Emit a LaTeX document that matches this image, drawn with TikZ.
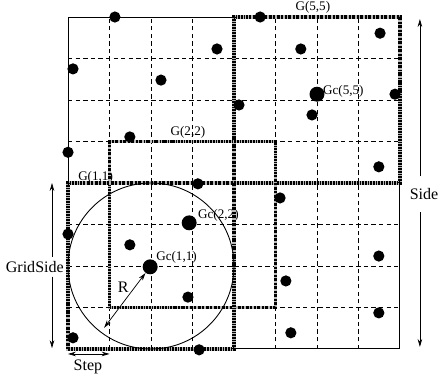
\documentclass[tikz,border=0pt]{standalone}
\usepackage{fontspec}
\setmainfont{Liberation Serif}
\usetikzlibrary{arrows.meta, calc}

\begin{document}
\begin{tikzpicture}[
  >={Stealth[length=1.9mm, width=1.1mm]},
  gridline/.style={dashed, dash pattern=on 3pt off 2.2pt, line width=0.5pt, black},
  gborder/.style={
    draw=gray!55, line width=2.4pt,
    postaction={draw=black, line width=2.2pt,
      dash pattern=on 0.45pt off 0.55pt on 0.45pt off 0.55pt on 0.45pt off 0.55pt on 1.4pt off 1.1pt}
  },
  sensor/.style={circle, fill=black, inner sep=0pt, minimum size=2.7mm},
  center/.style={circle, fill=black, inner sep=0pt, minimum size=3.6mm},
  glabel/.style={font=\fontsize{9}{10}\selectfont, inner sep=0pt},
  dimlabel/.style={font=\fontsize{11}{12}\selectfont, inner sep=0pt},
  dimarr/.style={<->, line width=0.5pt},
]

\useasboundingbox (-1.639,-0.771) rectangle (8.916,8.41);

% Dashed grid
\foreach \k in {1,...,7} {
  \draw[gridline] (\k,0) -- (\k,8);
  \draw[gridline] (0,\k) -- (8,\k);
}

% Field
\draw[line width=0.7pt] (0,0) rectangle (8,8);

% Sub-grid labels (under the borders)
\node[glabel] (g55lbl) at (5.9,8.24) {G(5,5)};
\node[glabel] (g22lbl) at (2.89,5.23) {G(2,2)};
\node[glabel, anchor=west] (g11lbl) at (0.24,4.14) {G(1,1)};
\node[glabel, anchor=west] (gc11lbl) at (2.12,2.22) {Gc(1,1)};
\node[glabel, anchor=west] (gc22lbl) at (3.13,3.23) {Gc(2,2)};
\node[glabel, anchor=west] (gc55lbl) at (6.14,6.22) {Gc(5,5)};

% Sub-grid borders
\draw[gborder] (4,4) rectangle (8,8);
\draw[gborder] (1,1) rectangle (5,5);
\draw[gborder] (0,0) rectangle (4,4);

% Sensing range
\draw[line width=0.6pt] (2,2) circle (2);

% Sensors
\node[sensor] (s1) at (1.13,8.0) {};
\node[sensor] (s2) at (3.59,7.23) {};
\node[sensor] (s3) at (0.12,6.75) {};
\node[sensor] (s4) at (2.24,6.48) {};
\node[sensor] (s5) at (1.49,5.11) {};
\node[sensor] (s6) at (0.0,4.74) {};
\node[sensor] (s7) at (3.13,3.98) {};
\node[sensor] (s8) at (4.63,8.0) {};
\node[sensor] (s9) at (7.52,7.61) {};
\node[sensor] (s10) at (5.61,7.23) {};
\node[sensor] (s11) at (7.88,6.14) {};
\node[sensor] (s12) at (4.12,5.88) {};
\node[sensor] (s13) at (5.88,5.64) {};
\node[sensor] (s14) at (7.49,4.39) {};
\node[sensor] (s15) at (0.0,2.77) {};
\node[sensor] (s16) at (1.49,2.51) {};
\node[sensor] (s17) at (2.89,1.25) {};
\node[sensor] (s18) at (0.12,0.27) {};
\node[sensor] (s19) at (3.16,-0.02) {};
\node[sensor] (s20) at (5.11,3.64) {};
\node[sensor] (s21) at (7.49,2.24) {};
\node[sensor] (s22) at (5.25,1.64) {};
\node[sensor] (s23) at (7.49,0.87) {};
\node[sensor] (s24) at (5.37,0.39) {};

% Grid centres
\node[center] (gc11) at (1.98,1.98) {};
\node[center] (gc22) at (2.92,3.04) {};
\node[center] (gc55) at (6.0,6.14) {};

% Radius
\coordinate (rend) at (0.87,0.51);
\draw[dimarr] (gc11) -- (rend);
\node[dimlabel] (rlbl) at (1.33,1.49) {R};

% GridSide
\coordinate (gstop) at (-0.386,4.0);
\coordinate (gsbot) at (-0.386,0.02);
\node[dimlabel, minimum height=0.46cm] (gslbl) at (-0.80,1.98) {GridSide};
\draw[->, line width=0.5pt] (gslbl.north -| gstop) -- (gstop);
\draw[->, line width=0.5pt] (gslbl.south -| gsbot) -- (gsbot);

% Side
\coordinate (sdtop) at (8.48,7.95);
\coordinate (sdbot) at (8.48,0.05);
\node[dimlabel, minimum height=0.85cm] (sdlbl) at (8.58,3.73) {Side};
\draw[->, line width=0.5pt] (sdlbl.north -| sdtop) -- (sdtop);
\draw[->, line width=0.5pt] (sdlbl.south -| sdbot) -- (sdbot);

% Step
\coordinate (stl) at (0,-0.12);
\coordinate (str) at (1,-0.12);
\draw[dimarr] (stl) -- (str);
\node[dimlabel] (stlbl) at (0.48,-0.43) {Step};

\end{tikzpicture}
\end{document}
